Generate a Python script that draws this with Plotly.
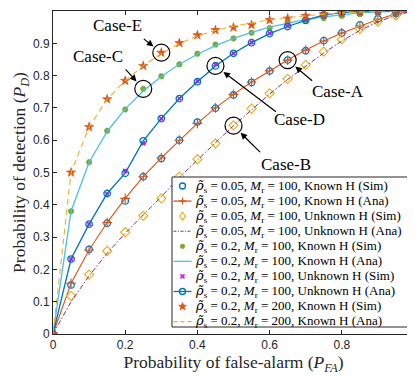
import math
import plotly.graph_objects as go

# ---------------- data ----------------
pfa = [0.0, 0.05, 0.1, 0.15, 0.2, 0.25, 0.3, 0.35, 0.4, 0.45, 0.5,
       0.55, 0.6, 0.65, 0.7, 0.75, 0.8, 0.85, 0.9, 0.95, 1.0]

pd_005_known_sim = [0, 0.152, 0.262, 0.343, 0.412, 0.487, 0.543, 0.600, 0.656, 0.699, 0.740,
                    0.779, 0.814, 0.848, 0.877, 0.908, 0.932, 0.957, 0.976, 0.992, 1.0]
pd_005_known_ana = [0, 0.157, 0.260, 0.345, 0.420, 0.487, 0.545, 0.600, 0.652, 0.700, 0.742,
                    0.780, 0.815, 0.848, 0.879, 0.907, 0.932, 0.954, 0.974, 0.991, 1.0]
pd_005_unk_sim = [0, 0.118, 0.184, 0.257, 0.315, 0.366, 0.420, 0.487, 0.541, 0.590, 0.646,
                  0.698, 0.745, 0.790, 0.833, 0.874, 0.912, 0.945, 0.967, 0.986, 1.0]
pd_005_unk_ana = [0, 0.100, 0.180, 0.250, 0.312, 0.368, 0.425, 0.485, 0.540, 0.592, 0.645,
                  0.695, 0.743, 0.788, 0.830, 0.870, 0.907, 0.940, 0.966, 0.987, 1.0]
pd_02_known_sim = [0, 0.380, 0.532, 0.629, 0.695, 0.759, 0.798, 0.835, 0.868, 0.896, 0.915,
                   0.933, 0.947, 0.960, 0.970, 0.978, 0.985, 0.990, 0.994, 0.998, 1.0]
pd_02_known_ana = [0, 0.380, 0.532, 0.627, 0.697, 0.752, 0.797, 0.835, 0.866, 0.893, 0.915,
                   0.934, 0.950, 0.963, 0.974, 0.982, 0.989, 0.994, 0.997, 0.999, 1.0]
pd_02_unk_sim = [0, 0.231, 0.340, 0.433, 0.505, 0.590, 0.667, 0.729, 0.783, 0.835, 0.869,
                 0.903, 0.931, 0.953, 0.972, 0.985, 0.993, 0.998, 1.0, 1.0, 1.0]
pd_02_unk_ana = [0, 0.232, 0.340, 0.435, 0.498, 0.598, 0.667, 0.729, 0.781, 0.830, 0.869,
                 0.902, 0.930, 0.952, 0.971, 0.988, 0.995, 0.999, 1.0, 1.0, 1.0]
pd_02_m200_sim = [0, 0.500, 0.641, 0.727, 0.784, 0.830, 0.871, 0.901, 0.925, 0.941, 0.949,
                  0.957, 0.972, 0.977, 0.985, 0.990, 0.994, 0.997, 0.999, 1.0, 1.0]
pd_02_m200_ana = [0, 0.500, 0.641, 0.727, 0.784, 0.830, 0.868, 0.899, 0.923, 0.940, 0.953,
                  0.964, 0.973, 0.980, 0.986, 0.990, 0.994, 0.997, 0.999, 1.0, 1.0]

x_ticks = [0, 0.2, 0.4, 0.6, 0.8, 1]
x_tick_text = ["0", "0.2", "0.4", "0.6", "0.8", "1"]
y_ticks = [0, 0.1, 0.2, 0.3, 0.4, 0.5, 0.6, 0.7, 0.8, 0.9, 1]
y_tick_text = ["0", "0.1", "0.2", "0.3", "0.4", "0.5", "0.6", "0.7", "0.8", "0.9", "1"]

RHO = "<span style=\"font-family:DejaVu Serif\"><i>ρ̃</i></span><sub>s</sub>"
MR = "<i>M</i><sub>r</sub>"
names = [
    f"{RHO} = 0.05, {MR} = 100, Known H (Sim)",
    f"{RHO} = 0.05, {MR} = 100, Known H (Ana)",
    f"{RHO} = 0.05, {MR} = 100, Unknown H (Sim)",
    f"{RHO} = 0.05, {MR} = 100, Unknown H (Ana)",
    f"{RHO} = 0.2, {MR} = 100, Known H (Sim)",
    f"{RHO} = 0.2, {MR} = 100, Known H (Ana)",
    f"{RHO} = 0.2, {MR} = 100, Unknown H (Sim)",
    f"{RHO} = 0.2, {MR} = 100, Unknown H (Ana)",
    f"{RHO} = 0.2, {MR} = 200, Known H (Sim)",
    f"{RHO} = 0.2, {MR} = 200, Known H (Ana)",
]

case_labels = ["Case-E", "Case-C", "Case-D", "Case-A", "Case-B"]

BLUE = "#0072BD"
ORANGE = "#D95319"
YELLOW = "#EDB120"
PURPLE = "#7E2F8E"
GREEN = "#77AC30"
LBLUE = "#4DBEEE"
MAGENTA = "#FF00FF"
AX = "#262626"
DASHDOT = "5px,2px,1.5px,2px"
DASH = "6px,4px"

fig = go.Figure()

fig.add_trace(go.Scatter(x=pfa, y=pd_005_known_sim, mode="markers", name=names[0],
                         marker=dict(symbol="circle-open", size=6.5, color=BLUE, line=dict(width=1.3))))
fig.add_trace(go.Scatter(x=pfa, y=pd_005_known_ana, mode="lines+markers", name=names[1],
                         line=dict(color=ORANGE, width=1.1),
                         marker=dict(symbol="cross-thin-open", size=7, color=ORANGE, line=dict(width=1.1))))
fig.add_trace(go.Scatter(x=pfa, y=pd_005_unk_sim, mode="markers", name=names[2],
                         marker=dict(symbol="diamond-open", size=7, color=YELLOW, line=dict(width=1.2))))
fig.add_trace(go.Scatter(x=pfa, y=pd_005_unk_ana, mode="lines", name=names[3],
                         line=dict(color=PURPLE, width=1.0, dash=DASHDOT)))
fig.add_trace(go.Scatter(x=pfa, y=pd_02_known_sim, mode="markers", name=names[4],
                         marker=dict(symbol="asterisk-open", size=5, color=GREEN, line=dict(width=2.0, color=GREEN))))
fig.add_trace(go.Scatter(x=pfa, y=pd_02_known_ana, mode="lines", name=names[5],
                         line=dict(color=LBLUE, width=1.3)))
fig.add_trace(go.Scatter(x=pfa, y=pd_02_unk_sim, mode="markers", name=names[6],
                         marker=dict(symbol="x-thin-open", size=4, color=MAGENTA, line=dict(width=1.6, color=MAGENTA))))
fig.add_trace(go.Scatter(x=pfa, y=pd_02_unk_ana, mode="lines+markers", name=names[7],
                         line=dict(color=BLUE, width=1.3),
                         marker=dict(symbol="circle-open", size=6.5, color=BLUE, line=dict(width=1.3))))
fig.add_trace(go.Scatter(x=pfa, y=pd_02_m200_sim, mode="markers", name=names[8],
                         marker=dict(symbol="star", size=7, color=ORANGE, line=dict(width=0.6, color=ORANGE))))
fig.add_trace(go.Scatter(x=pfa, y=pd_02_m200_ana, mode="lines", name=names[9],
                         line=dict(color=YELLOW, width=1.1, dash=DASH)))

# ---------------- case annotations ----------------
cases = [
    # label, x index, series, tail offset (px), text position (data)
    (case_labels[0], 6, pd_02_m200_sim, -19, -15, 0.180, 0.954),
    (case_labels[1], 5, pd_02_known_sim, -19, -21, 0.124, 0.858),
    (case_labels[2], 9, pd_02_unk_ana, 62, 47, 0.684, 0.665),
    (case_labels[3], 13, pd_005_known_ana, 26, 22, 0.790, 0.750),
    (case_labels[4], 10, pd_005_unk_ana, 28, 28, 0.646, 0.525),
]
for label, i, ser, ax, ay, tx, ty in cases:
    fig.add_shape(type="circle", xref="x", yref="y", xsizemode="pixel", ysizemode="pixel",
                  xanchor=pfa[i], yanchor=ser[i], x0=-8.5, x1=8.5, y0=-8.5, y1=8.5,
                  line=dict(color="black", width=1.2))
    fig.add_annotation(x=pfa[i], y=ser[i], ax=ax, ay=ay, text="", showarrow=True,
                       arrowhead=2, arrowsize=1.1, arrowwidth=1.2, arrowcolor="black", standoff=10)
    fig.add_annotation(x=tx, y=ty, text=label, showarrow=False,
                       font=dict(family="Liberation Serif", size=17, color="black"))

# ---------------- layout geometry (figure pixels) ----------------
FIG_W, FIG_H = 407, 368          # page has an 8px body margin
PLOT_L, PLOT_T, PLOT_R, PLOT_B = 45, 3, 1, 42
PW = FIG_W - PLOT_L - PLOT_R
PH = FIG_H - PLOT_T - PLOT_B


def px2paper(fx, fy):
    return (fx - PLOT_L) / PW, (PLOT_T + PH - fy) / PH


# ---------------- compact legend (MATLAB-like) ----------------
LEG_X0, LEG_Y0, LEG_X1, LEG_Y1 = 164, 169, 404, 319
ROW0, ROW_STEP = 178.0, 15.07
SYM_X, LINE_X0, LINE_X1, TEXT_X = 174.5, 165.5, 183.5, 185

bx0, by1 = px2paper(LEG_X0, LEG_Y0)
bx1, by0 = px2paper(LEG_X1, LEG_Y1)
fig.add_shape(type="rect", xref="paper", yref="paper", x0=bx0, x1=bx1, y0=by0, y1=by1,
              line=dict(color=AX, width=1), fillcolor="white", layer="above")


def star_path(r_out=4.0, r_in=1.7):
    pts = []
    for k in range(10):
        r = r_out if k % 2 == 0 else r_in
        a = math.pi / 2 + k * math.pi / 5
        pts.append((r * math.cos(a), r * math.sin(a)))
    return "M" + " L".join(f"{x:.2f},{y:.2f}" for x, y in pts) + " Z"


glyphs = {
    "circle": None,
    "plus": "M-3.5,0 L3.5,0 M0,-3.5 L0,3.5",
    "diamond": "M0,4 L3,0 L0,-4 L-3,0 Z",
    "asterisk": "M-2.5,0 L2.5,0 M0,-2.5 L0,2.5 M-1.8,-1.8 L1.8,1.8 M-1.8,1.8 L1.8,-1.8",
    "x": "M-2,-2 L2,2 M-2,2 L2,-2",
    "star": star_path(),
}

legend_spec = [
    # marker, marker colour, line colour, dash, filled
    ("circle", BLUE, None, None, False),
    ("plus", ORANGE, ORANGE, "solid", False),
    ("diamond", YELLOW, None, None, False),
    (None, None, PURPLE, "3px,1.5px,1px,1.5px", False),
    ("asterisk", GREEN, None, None, False),
    (None, None, LBLUE, "solid", False),
    ("x", MAGENTA, None, None, False),
    ("circle", BLUE, BLUE, "solid", False),
    ("star", ORANGE, None, None, True),
    (None, None, YELLOW, "4px,3px", False),
]

for k, (mk, mcol, lcol, dash, filled) in enumerate(legend_spec):
    fy = ROW0 + k * ROW_STEP
    sx, sy = px2paper(SYM_X, fy)
    if lcol is not None:
        lx0, _ = px2paper(LINE_X0, fy)
        lx1, _ = px2paper(LINE_X1, fy)
        fig.add_shape(type="line", xref="paper", yref="paper", x0=lx0, x1=lx1, y0=sy, y1=sy,
                      line=dict(color=lcol, width=1.3 if dash == "solid" else 1.1, dash=dash),
                      layer="above")
    if mk == "circle":
        fig.add_shape(type="circle", xref="paper", yref="paper", xsizemode="pixel", ysizemode="pixel",
                      xanchor=sx, yanchor=sy, x0=-3, x1=3, y0=-3, y1=3,
                      line=dict(color=mcol, width=1.3), layer="above")
    elif mk is not None:
        fig.add_shape(type="path", xref="paper", yref="paper", xsizemode="pixel", ysizemode="pixel",
                      xanchor=sx, yanchor=sy, path=glyphs[mk],
                      line=dict(color=mcol, width=0.8 if filled else (1.6 if mk in ("asterisk", "x") else 1.2)),
                      fillcolor=mcol if filled else "rgba(0,0,0,0)", layer="above")
    tx, _ = px2paper(TEXT_X, fy)
    fig.add_annotation(xref="paper", yref="paper", x=tx, y=sy, xanchor="left", yanchor="middle",
                       text=names[k], showarrow=False,
                       font=dict(family="Liberation Serif", size=13, color="black"))

axis_common = dict(showgrid=False, zeroline=False, showline=True, linecolor=AX, linewidth=1,
                   mirror="allticks", ticks="inside", ticklen=4, tickcolor=AX,
                   tickfont=dict(family="Liberation Sans", size=12, color=AX))

fig.update_xaxes(range=[0, 1], tickvals=x_ticks, ticktext=x_tick_text, ticklabeloverflow="allow",
                 title=dict(text="Probability of false-alarm (<i>P</i><sub><i>FA</i></sub>)",
                            font=dict(family="Liberation Serif", size=17.5, color=AX), standoff=3),
                 **axis_common)
fig.update_yaxes(range=[0, 1], tickvals=y_ticks, ticktext=y_tick_text,
                 title=dict(text="Probability of detection (<i>P</i><sub><i>D</i></sub>)",
                            font=dict(family="Liberation Serif", size=17.5, color=AX), standoff=2),
                 **axis_common)

fig.update_layout(
    width=FIG_W, height=FIG_H,
    margin=dict(l=PLOT_L, r=PLOT_R, t=PLOT_T, b=PLOT_B, autoexpand=False),
    plot_bgcolor="white", paper_bgcolor="white",
    showlegend=False,
)

fig.write_html("out.html")
